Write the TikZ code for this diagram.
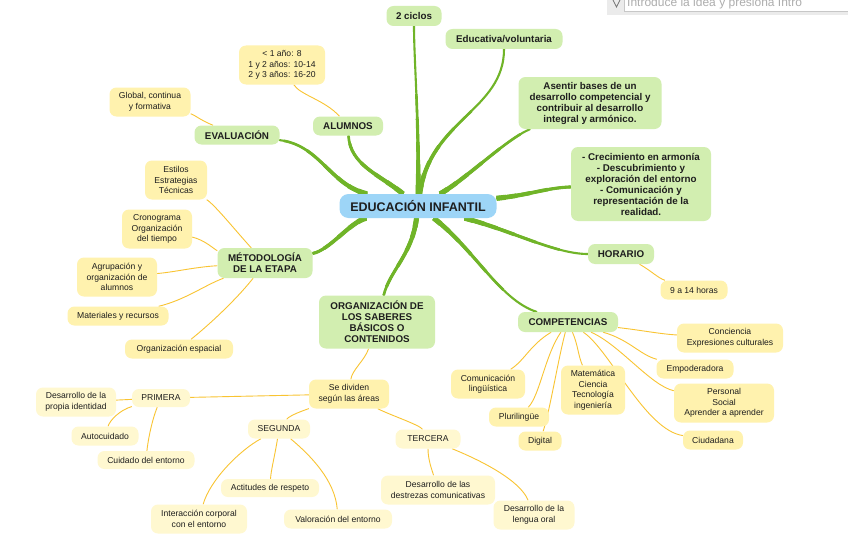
\documentclass[tikz,border=0pt]{standalone}
\usepackage{fontspec}
\setmainfont{Liberation Sans}
\usetikzlibrary{backgrounds}
\definecolor{lgreen}{RGB}{112,180,40}
\definecolor{gfill}{RGB}{210,238,176}
\definecolor{bfill}{RGB}{157,213,247}
\definecolor{yfill}{RGB}{255,242,174}
\definecolor{pfill}{RGB}{255,248,208}
\definecolor{lyellow}{RGB}{249,196,50}
\definecolor{txt}{RGB}{30,30,30}
\begin{document}
\begin{tikzpicture}[x=1pt,y=-1pt,
  box/.style={rounded corners=7pt, align=center, inner sep=2pt, text=txt},
  cnode/.style={box, fill=bfill, rounded corners=9pt, font=\bfseries\fontsize{12.5}{14}\selectfont},
  gnode/.style={box, fill=gfill, font=\bfseries\fontsize{9.8}{11}\selectfont},
  ynode/.style={box, fill=yfill, font=\fontsize{8.6}{10.5}\selectfont},
  pnode/.style={ynode, fill=pfill},
  tp/.style 2 args={preaction={draw=lgreen, line width=#1, line cap=butt, dash pattern=on #2 off 3000pt}},
  glink/.style={draw=lgreen, line width=2.1pt, line cap=round,
    tp={2.6pt}{100pt}, tp={3.1pt}{75pt}, tp={3.6pt}{52pt}, tp={4.1pt}{34pt},
    tp={4.6pt}{20pt}, tp={5.1pt}{9pt}},
  ylink/.style={draw=lyellow, line width=0.9pt}]
\useasboundingbox (0,0) rectangle (848,543);

% search bar
\fill[black!8] (607,-1) rectangle (848,15);
\draw[black!22, fill=white] (624,-2) rectangle (849,11);
\node[anchor=base west, inner sep=0pt, text=black!32, font=\fontsize{12}{14}\selectfont] (sb) at (627,6.5) {Introduce la idea y presiona Intro};
\draw[black!55, line width=0.8pt] (613,0) -- (616.5,7) -- (620,0);

% nodes
\node[cnode, minimum width=157pt, minimum height=24pt] (c) at (418,206) {EDUCACIÓN INFANTIL};
\node[gnode, minimum width=55pt, minimum height=20pt] (cic) at (414,16) {2 ciclos};
\node[gnode, minimum width=117pt, minimum height=20pt] (edu) at (504,39) {Educativa/voluntaria};
\node[gnode, minimum width=143pt, minimum height=52pt] (ase) at (590,103) {Asentir bases de un\\desarrollo competencial y\\contribuir al desarrollo\\integral y armónico.};
\node[gnode, minimum width=140pt, minimum height=74pt] (cre) at (641,184) {- Crecimiento en armonía\\- Descubrimiento y\\exploración del entorno\\- Comunicación y\\representación de la\\realidad.};
\node[gnode, minimum width=66pt, minimum height=20pt] (hor) at (621,254) {HORARIO};
\node[ynode, minimum width=67pt, minimum height=19pt] (nue) at (694,290) {9 a 14 horas};
\node[gnode, minimum width=100pt, minimum height=20pt] (comp) at (568,322) {COMPETENCIAS};
\node[ynode, minimum width=106pt, minimum height=29pt] (con) at (730,338) {Conciencia\\Expresiones culturales};
\node[ynode, minimum width=77pt, minimum height=19pt] (emp) at (695,369) {Empoderadora};
\node[ynode, minimum width=100pt, minimum height=39pt] (per) at (724,403) {Personal\\Social\\Aprender a aprender};
\node[ynode, minimum width=60pt, minimum height=19pt] (ciu) at (713,440) {Ciudadana};
\node[ynode, minimum width=64pt, minimum height=49pt] (mate) at (593,390) {Matemática\\Ciencia\\Tecnología\\ingeniería};
\node[ynode, minimum width=74pt, minimum height=29pt] (comu) at (488,384) {Comunicación\\lingüística};
\node[ynode, minimum width=60pt, minimum height=19pt] (plu) at (519,417) {Plurilingüe};
\node[ynode, minimum width=43pt, minimum height=19pt] (dig) at (540,441) {Digital};
\node[gnode, minimum width=116pt, minimum height=53pt] (org) at (377,322) {ORGANIZACIÓN DE\\LOS SABERES\\BÁSICOS O\\CONTENIDOS};
\node[ynode, minimum width=80pt, minimum height=29pt] (sed) at (349,394) {Se dividen\\según las áreas};
\node[pnode, minimum width=65pt, minimum height=19pt] (ter) at (428,439) {TERCERA};
\node[pnode, minimum width=114pt, minimum height=29pt] (des) at (438,490) {Desarrollo de las\\destrezas comunicativas};
\node[pnode, minimum width=81pt, minimum height=29pt] (len) at (534,515) {Desarrollo de la\\lengua oral};
\node[pnode, minimum width=62pt, minimum height=19pt] (seg) at (279,429) {SEGUNDA};
\node[pnode, minimum width=98pt, minimum height=18pt] (act) at (270,488) {Actitudes de respeto};
\node[pnode, minimum width=108pt, minimum height=19pt] (val) at (338,519) {Valoración del entorno};
\node[pnode, minimum width=96pt, minimum height=29pt] (int) at (199,519) {Interacción corporal\\con el entorno};
\node[pnode, minimum width=58pt, minimum height=18pt] (pri) at (161,398) {PRIMERA};
\node[pnode, minimum width=80pt, minimum height=29pt] (ide) at (76,402) {Desarrollo de la\\propia identidad};
\node[pnode, minimum width=67pt, minimum height=19pt] (aut) at (105,436) {Autocuidado};
\node[pnode, minimum width=97pt, minimum height=18pt] (cui) at (146,460) {Cuidado del entorno};
\node[ynode, minimum width=108pt, minimum height=19pt] (esp) at (179,349) {Organización espacial};
\node[ynode, minimum width=101pt, minimum height=19pt] (mat) at (118,316) {Materiales y recursos};
\node[ynode, minimum width=80pt, minimum height=39pt] (agr) at (117,277) {Agrupación y\\organización de\\alumnos};
\node[gnode, minimum width=95pt, minimum height=30pt] (met) at (265,263) {MÉTODOLOGÍA\\DE LA ETAPA};
\node[ynode, minimum width=70pt, minimum height=39pt] (cro) at (157,229) {Cronograma\\Organización\\del tiempo};
\node[ynode, minimum width=62pt, minimum height=39pt] (est) at (176,180) {Estilos\\Estrategias\\Técnicas};
\node[gnode, minimum width=85pt, minimum height=19pt] (eva) at (237,135) {EVALUACIÓN};
\node[ynode, minimum width=81pt, minimum height=29pt] (glo) at (150,102) {Global, continua\\y formativa};
\node[gnode, minimum width=70pt, minimum height=19pt] (alu) at (348,126) {ALUMNOS};
\node[ynode, minimum width=86pt, minimum height=39pt] (alun) at (282,65) {< 1 año: 8\\1 y 2 años: 10-14\\2 y 3 años: 16-20};

\begin{scope}[on background layer]
\fill[white] (0,0) rectangle (848,543);
% green links
\draw[glink] (c) .. controls (419,120) and (414,60) .. (cic);
\draw[glink] (c) .. controls (430,120) and (504,110) .. (edu);
\draw[glink] (c) .. controls (465,180) and (505,140) .. (ase);
\draw[glink] (c) .. controls (530,195) and (545,188) .. (cre);
\draw[glink] (c) .. controls (510,230) and (555,254) .. (hor);
\draw[glink] (c) .. controls (475,250) and (500,300) .. (comp);
\draw[glink] (c) .. controls (412,255) and (390,270) .. (org);
\draw[glink] (c) .. controls (350,222) and (330,250) .. (met);
\draw[glink] (c) .. controls (330,185) and (320,145) .. (eva);
\draw[glink] (c) .. controls (380,175) and (350,165) .. (alu);
% yellow links
\draw[ylink] (alu) .. controls (325,100) and (300,95) .. (alun);
\draw[ylink] (eva) .. controls (200,120) and (195,115) .. (glo);
\draw[ylink] (met) .. controls (235,230) and (215,205) .. (est);
\draw[ylink] (met) .. controls (215,250) and (205,240) .. (cro);
\draw[ylink] (met) .. controls (195,267) and (175,272) .. (agr);
\draw[ylink] (met) .. controls (205,285) and (185,300) .. (mat);
\draw[ylink] (met) .. controls (240,295) and (215,320) .. (esp);
\draw[ylink] (org) .. controls (365,360) and (352,370) .. (sed);
\draw[ylink] (sed) -- (pri);
\draw[ylink] (sed) .. controls (305,410) and (290,415) .. (seg);
\draw[ylink] (sed) .. controls (390,415) and (420,425) .. (ter);
\draw[ylink] (pri) -- (ide);
\draw[ylink] (pri) .. controls (120,410) and (110,420) .. (aut);
\draw[ylink] (pri) .. controls (152,420) and (148,440) .. (cui);
\draw[ylink] (seg) .. controls (240,450) and (210,480) .. (int);
\draw[ylink] (seg) .. controls (275,455) and (271,470) .. (act);
\draw[ylink] (seg) .. controls (310,455) and (335,480) .. (val);
\draw[ylink] (ter) .. controls (428,460) and (432,470) .. (des);
\draw[ylink] (ter) .. controls (480,460) and (520,480) .. (len);
\draw[ylink] (hor) .. controls (650,270) and (658,278) .. (nue);
\draw[ylink] (comp) .. controls (530,345) and (525,360) .. (comu);
\draw[ylink] (comp) .. controls (545,355) and (540,395) .. (plu);
\draw[ylink] (comp) .. controls (558,360) and (550,410) .. (dig);
\draw[ylink] (comp) .. controls (578,345) and (578,355) .. (mate);
\draw[ylink] (comp) .. controls (610,350) and (645,430) .. (ciu);
\draw[ylink] (comp) .. controls (620,345) and (650,385) .. (per);
\draw[ylink] (comp) .. controls (630,340) and (640,355) .. (emp);
\draw[ylink] (comp) .. controls (640,330) and (660,334) .. (con);
\end{scope}
\end{tikzpicture}
\end{document}
